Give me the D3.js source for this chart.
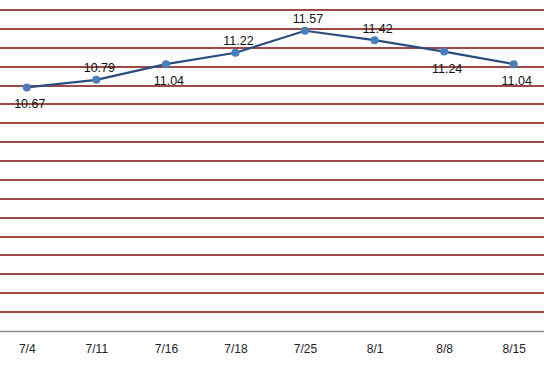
<!DOCTYPE html>
<html>
<head>
<meta charset="utf-8">
<script src="https://cdn.jsdelivr.net/npm/d3@7"></script>
<style>
	body { margin: 0; background: #fff; }
	svg { display: block; }
	text { font-family: "Liberation Sans", Arial, sans-serif; font-size: 12px; }
</style>
</head>
<body>
<script>
const w = 544,
	h = 372;

//chart data
const dates = ['7/4', '7/11', '7/16', '7/18', '7/25', '8/1', '8/8', '8/15'];
const values = [10.67, 10.79, 11.04, 11.22, 11.57, 11.42, 11.24, 11.04];
//value axis: 6.8 to 11.9, one gridline every 0.3
const yMin = 6.8,
	yMax = 11.9,
	yStep = 0.3;

//which data labels sit under their point
const labelsBelow = [0, 2, 6, 7];

const svg = d3.select('body')
	.append('svg')
	.attr('width', w)
	.attr('height', h);

const x = d3.scalePoint()
	.domain(dates)
	.range([-8, 548.5])
	.padding(0.5);

const y = d3.scaleLinear()
	.domain([yMin, yMax])
	.range([331, 10]);

//horizontal gridlines (not the bottom one, that is the axis line)
const gridVals = d3.range(1, Math.round((yMax - yMin) / yStep) + 1).map((i) => yMin + i * yStep);
svg.append('g')
	.selectAll('line')
	.data(gridVals)
	.enter()
	.append('line')
	.attr('x1', 0)
	.attr('x2', w)
	.attr('y1', (d) => Math.round(y(d)))
	.attr('y2', (d) => Math.round(y(d)))
	.attr('stroke', '#7d0c0c')
	.attr('stroke-width', 1.3);

//category axis
const xAxis = svg.append('g')
	.attr('transform', `translate(0,${Math.round(y(yMin)) + 0.5})`)
	.call(d3.axisBottom(x).tickSize(0).tickPadding(13));
xAxis.select('.domain').remove();
xAxis.append('line')
	.attr('x1', 0)
	.attr('x2', w)
	.attr('stroke', '#8c8c8c')
	.attr('stroke-width', 1.5);
xAxis.selectAll('text')
	.attr('fill', '#222')
	.style('font-size', '12px')
	.style('font-family', '"Liberation Sans", Arial, sans-serif');

//the line
const line = d3.line()
	.x((d, i) => x(dates[i]))
	.y((d) => y(d));

svg.append('path')
	.datum(values)
	.attr('d', line)
	.attr('fill', 'none')
	.attr('stroke', '#2a4c7f')
	.attr('stroke-width', 2.2);

//markers
svg.append('g')
	.selectAll('circle')
	.data(values)
	.enter()
	.append('circle')
	.attr('cx', (d, i) => x(dates[i]))
	.attr('cy', (d) => y(d))
	.attr('r', 4)
	.attr('fill', '#4a7ebb');

//data labels
svg.append('g')
	.selectAll('text')
	.data(values)
	.enter()
	.append('text')
	.attr('x', (d, i) => x(dates[i]) + 3)
	.attr('y', (d, i) => y(d) + (labelsBelow.includes(i) ? 21 : -7.5))
	.attr('text-anchor', 'middle')
	.attr('fill', '#111')
	.style('font-size', '12.5px')
	.text((d) => d.toFixed(2));
</script>
</body>
</html>
